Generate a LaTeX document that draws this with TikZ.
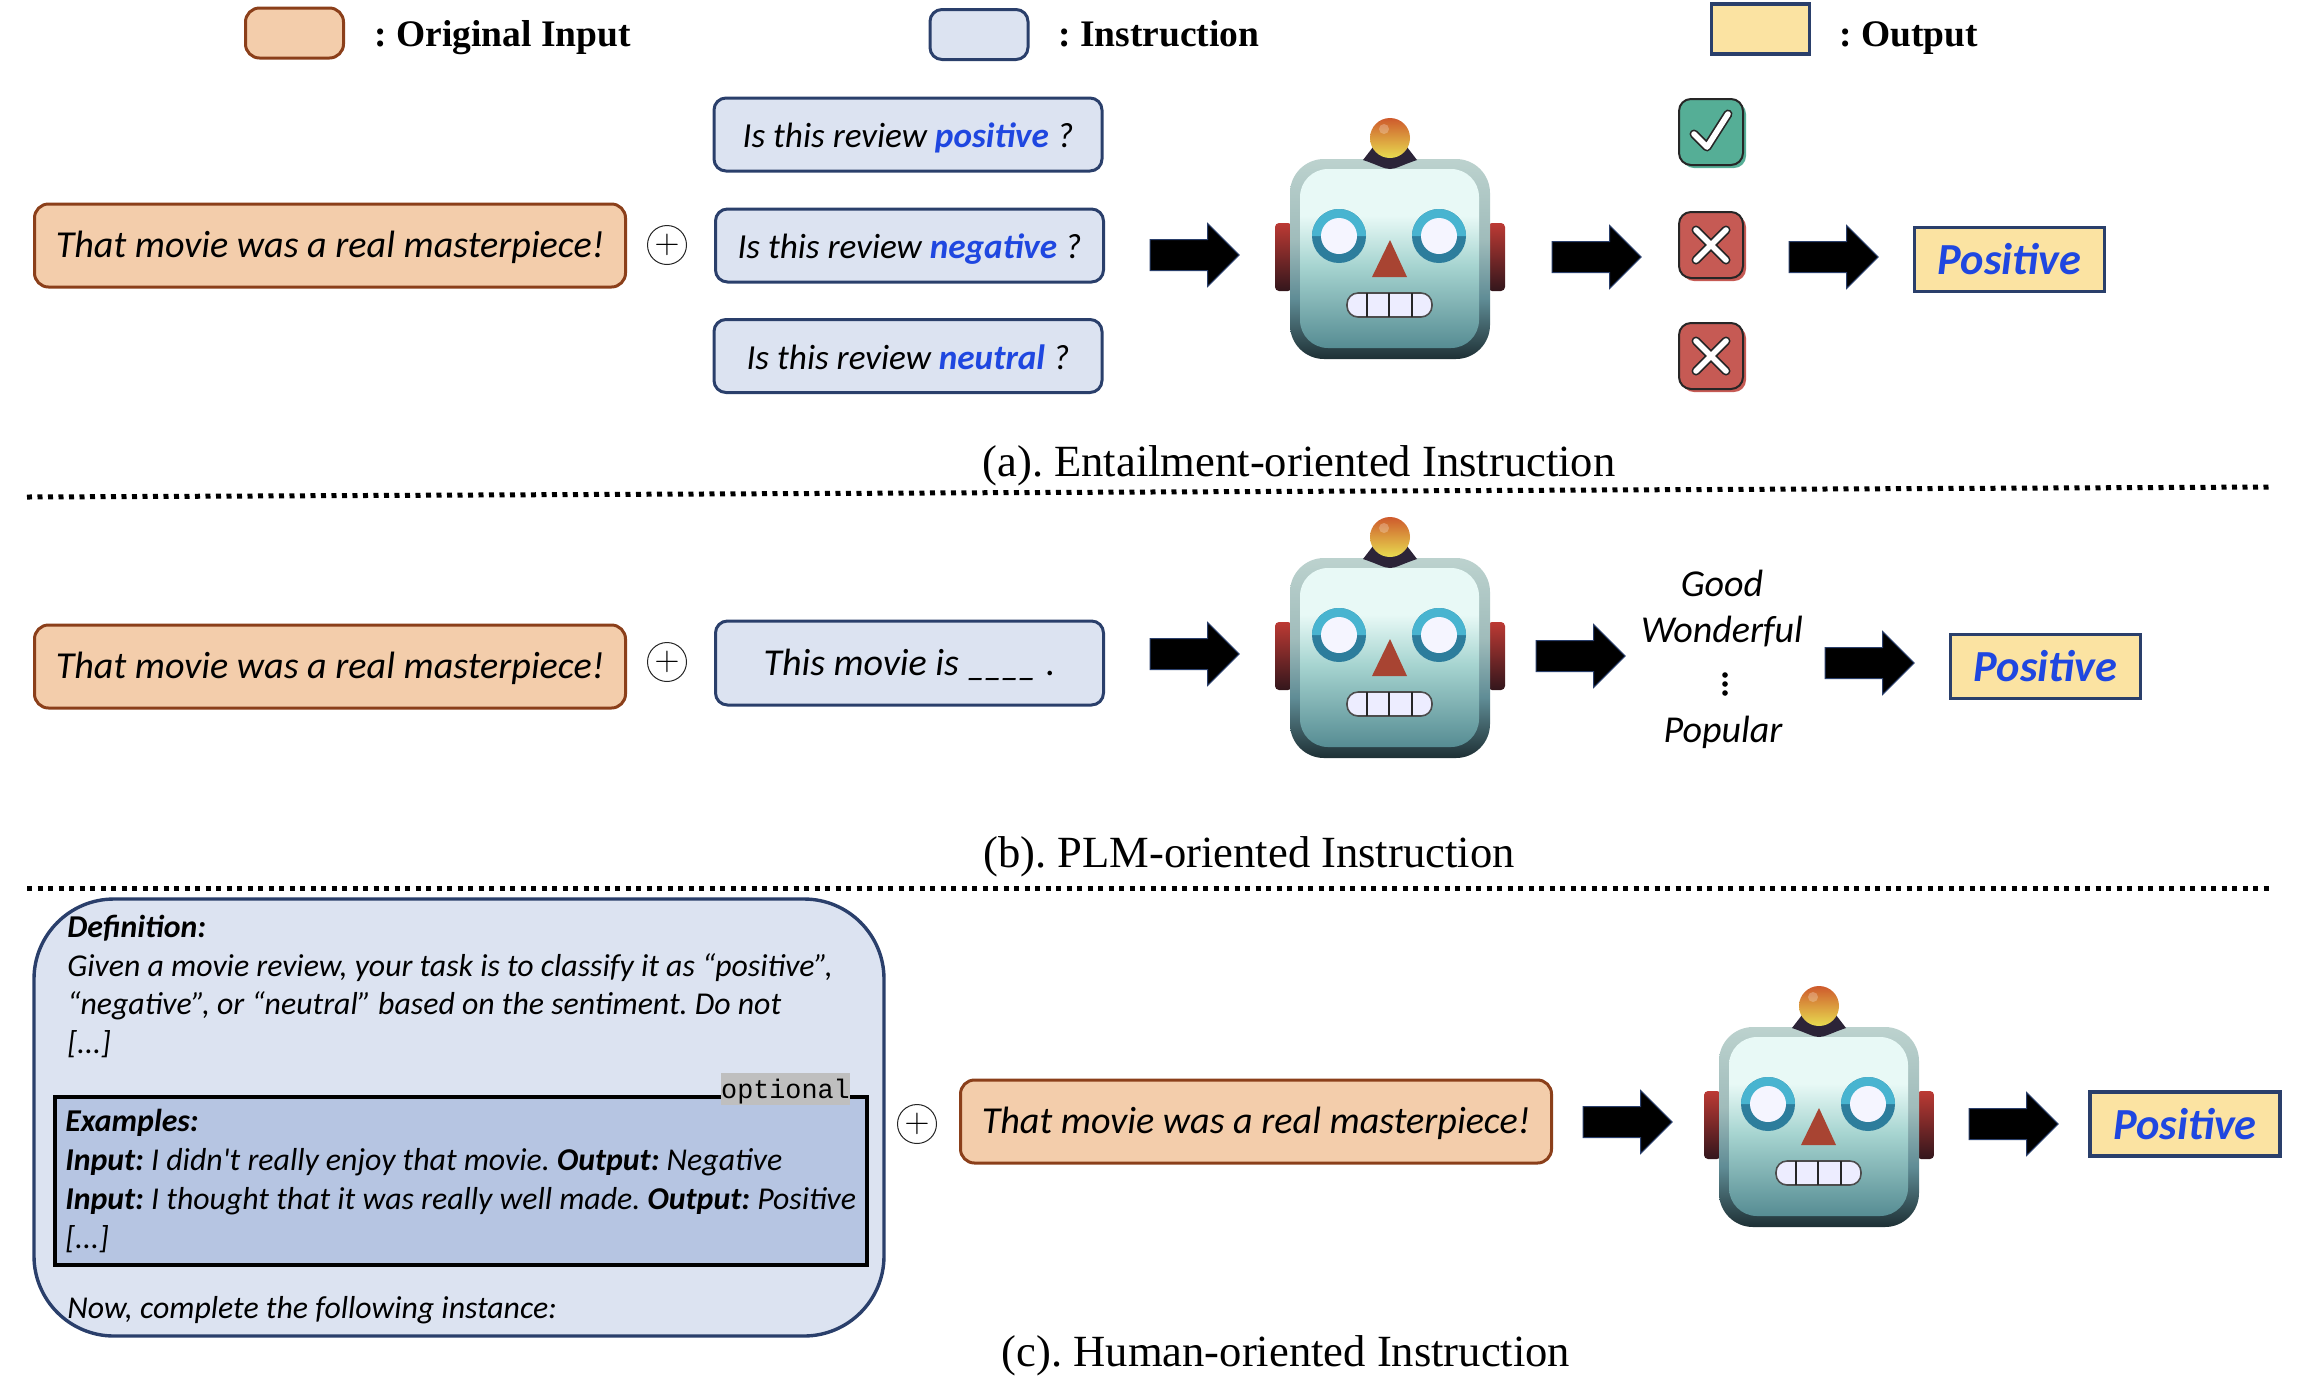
\documentclass[tikz,border=0pt]{standalone}
\usepackage{fontspec}
\setmainfont{Carlito}
\newfontfamily\rawfont{Carlito}
\newfontfamily\capfont{Liberation Serif}
\newfontfamily\tagfont{Liberation Mono}
\usetikzlibrary{shapes.arrows}
\AtBeginDocument{\frenchspacing}
\definecolor{InputFill}{HTML}{F3CDAB}
\definecolor{InputEdge}{HTML}{8B3F1A}
\definecolor{InstructionFill}{HTML}{DCE3F1}
\definecolor{InstructionEdge}{HTML}{2A3F6B}
\definecolor{ExamplesFill}{HTML}{B6C5E2}
\definecolor{OutputFill}{HTML}{FBE3A2}
\definecolor{LabelBlue}{HTML}{1F47E0}
\definecolor{CheckFill}{HTML}{55AE96}
\definecolor{CrossFill}{HTML}{C65A54}
\definecolor{RimA}{HTML}{BCD2CE}
\definecolor{RimB}{HTML}{A0BCBB}
\definecolor{RimC}{HTML}{5F8C95}
\definecolor{RimD}{HTML}{1E3035}
\definecolor{FaceA}{HTML}{E8F9F6}
\definecolor{FaceB}{HTML}{A6D4D0}
\definecolor{FaceC}{HTML}{568C93}
\definecolor{RedTop}{HTML}{BC3A34}
\definecolor{RedLow}{HTML}{33161C}
\definecolor{EyeTop}{HTML}{48B4D0}
\definecolor{EyeLow}{HTML}{2D7D9C}
\definecolor{NoseFill}{HTML}{A84432}
\definecolor{MountFill}{HTML}{2C2438}
\definecolor{BallTop}{HTML}{CE5A2C}
\definecolor{BallMid}{HTML}{EE8A30}
\definecolor{BallLow}{HTML}{E8DC50}
\pgfdeclareverticalshading{robotrim}{100bp}{color(0bp)=(RimD); color(25bp)=(RimD); color(40bp)=(RimC); color(55bp)=(RimB); color(75bp)=(RimA); color(100bp)=(RimA)}
\pgfdeclareverticalshading{robotface}{100bp}{color(0bp)=(FaceC); color(25bp)=(FaceC); color(48bp)=(FaceB); color(62bp)=(FaceA); color(75bp)=(FaceA); color(100bp)=(FaceA)}
\tikzset{
    inputbox/.style={draw=InputEdge, fill=InputFill, line width=1.5pt, rounded corners=7pt,
        minimum width=295.5pt, minimum height=41.5pt, inner sep=0pt, text height=14.8pt, text depth=3pt,
        font=\fontsize{19.05}{22}\selectfont\itshape},
    instructionbox/.style={draw=InstructionEdge, fill=InstructionFill, line width=1.5pt, rounded corners=6pt,
        minimum width=194pt, minimum height=36.5pt, inner sep=0pt, text height=16.3pt, text depth=3pt,
        font=\fontsize{17.6}{20}\selectfont\itshape},
    outputbox/.style={draw=InstructionEdge, fill=OutputFill, line width=1.7pt,
        minimum width=95pt, minimum height=32pt, inner sep=0pt,
        text=LabelBlue, font=\fontsize{22.2}{24}\selectfont\bfseries\itshape},
    blockarrow/.style={single arrow, draw=InstructionEdge, fill=black, line width=0.5pt, inner xsep=0pt, inner ysep=7.5pt,
        xshift=-3.6pt, minimum height=44.5pt, minimum width=31pt, single arrow head extend=8pt, single arrow head indent=0pt},
    plusmark/.style={circle, draw=black!85, line width=0.5pt, minimum size=19.5pt, inner sep=0pt, font=\fontsize{16}{16}\selectfont},
    legendtext/.style={anchor=west, inner sep=0pt, text height=12pt, text depth=0pt, font=\capfont\fontsize{18.75}{22}\selectfont\bfseries},
    captiontext/.style={inner sep=0pt, font=\capfont\fontsize{22.3}{26}\selectfont},
    wordtext/.style={inner sep=0pt, font=\fontsize{19}{22}\selectfont\itshape},
    bodytext/.style={anchor=west, inner sep=0pt, font=\fontsize{15.9}{18}\selectfont\itshape},
    rule line/.style={line width=2.5pt, dash pattern=on 2.5pt off 2.75pt},
    robot/.pic={
        \foreach \side in {-1,1} {
            \shade[top color=RedTop, bottom color=RedLow, rounded corners=2pt]
                (\side*115,-36) rectangle (\side*98,32);
        }
        \shade[shading=robotrim, rounded corners=17pt] (-100,-100) rectangle (100,100);
        \shade[shading=robotface, rounded corners=14pt] (-90,-90) rectangle (89,89);
        \foreach \eye in {-51,49} {
            \fill[EyeLow] (\eye,-23) circle (27);
            \fill[EyeTop] (\eye-27,-23) arc[start angle=180, end angle=360, radius=27] -- cycle;
            \fill[white!96!blue] (\eye,-23) circle (18);
        }
        \fill[NoseFill] (0,-19) -- (-18,18) -- (17,18) -- cycle;
        \draw[draw=black!70, fill=white!93!blue, line width=0.8pt, rounded corners=5.5pt] (-43,34) rectangle (42,58);
        \foreach \tooth in {-23,-1,22} {
            \draw[black!85, line width=1.1pt] (\tooth,34) -- (\tooth,58);
        }
        \fill[MountFill] (-27,-99) -- (-17,-112) -- (17,-112) -- (27,-99) .. controls (12,-94) and (6,-90) .. (0,-90) .. controls (-6,-90) and (-12,-94) .. (-27,-99);
        \shade[top color=BallTop, middle color=BallMid, bottom color=BallLow] (0,-121) circle (20);
        \fill[white, opacity=0.25] (-6,-130) circle (5);
    },
    checkmark/.pic={
        \fill[CheckFill, rounded corners=6pt] (-29,-30) rectangle (35,36);
        \draw[draw=black!85, fill=CheckFill, line width=1pt, rounded corners=6pt] (-32,-33) rectangle (32,33);
        \draw[black!85, line width=4.5pt, line cap=round, line join=round] (-17,2) -- (-4,15) -- (17,-18);
        \draw[white, line width=2.8pt, line cap=round, line join=round] (-17,2) -- (-4,15) -- (17,-18);
    },
    crossmark/.pic={
        \fill[CrossFill, rounded corners=6pt] (-29,-30) rectangle (35,36);
        \draw[draw=black!85, fill=CrossFill, line width=1pt, rounded corners=6pt] (-32,-33) rectangle (32,33);
        \foreach \col/\wid in {black!85/4.5pt, white/2.8pt} {
            \draw[\col, line width=\wid, line cap=round] (-15,-15) -- (15,15);
            \draw[\col, line width=\wid, line cap=round] (-15,15) -- (15,-15);
        }
    }
}
\begin{document}
\begin{tikzpicture}[x=0.5pt, y=-0.5pt]
    \useasboundingbox (0,0) rectangle (2298,1378);

    % legend
    \node[inputbox, minimum width=49pt, minimum height=25pt] (legendInput) at (294.5,33) {};
    \node[legendtext] (legendInputText) at (374,34) {: Original Input};
    \node[instructionbox, minimum width=49pt, minimum height=25pt] (legendInstruction) at (979,34.5) {};
    \node[legendtext] (legendInstructionText) at (1058,34) {: Instruction};
    \node[outputbox, minimum width=49pt, minimum height=25pt] (legendOutput) at (1760.5,29) {};
    \node[legendtext] (legendOutputText) at (1839,34) {: Output};

    % entailment row
    \node[inputbox] (inputA) at (330,245.5) {That movie was a real masterpiece!};
    \node[plusmark] (plusA) at (667,245) {$+$};
    \node[instructionbox] (askPositive) at (908,134.5) {Is this review \textcolor{LabelBlue}{\textbf{positive}} ?};
    \node[instructionbox] (askNegative) at (909.5,245.5) {Is this review \textcolor{LabelBlue}{\textbf{negative}} ?};
    \node[instructionbox] (askNeutral) at (908,356) {Is this review \textcolor{LabelBlue}{\textbf{neutral}} ?};
    \node[blockarrow] (arrowA) at (1194,255) {};
    \pic (robotA) at (1390,259) {robot};
    \node[blockarrow] (arrowB) at (1596,257) {};
    \pic (markPositive) at (1711,132) {checkmark};
    \pic (markNegative) at (1711,245) {crossmark};
    \pic (markNeutral) at (1711,356) {crossmark};
    \node[blockarrow] (arrowC) at (1833,257) {};
    \node[outputbox] (outputA) at (2009.5,259.5) {Positive};
    \node[captiontext] (captionA) at (1299,466) {(a). Entailment-oriented Instruction};

    \coordinate (ruleAleft) at (27,497);
    \coordinate (ruleAright) at (2272,487);
    \draw[rule line] (ruleAleft) -- (ruleAright);

    % plm row
    \node[inputbox] (inputB) at (330,666.5) {That movie was a real masterpiece!};
    \node[plusmark] (plusB) at (667,662) {$+$};
    \node[instructionbox, minimum height=42pt, text height=15.2pt, font=\fontsize{19}{22}\selectfont\itshape] (cloze) at (909.5,663) {This movie is \_\kern-1pt\_\kern-1pt\_\kern-1pt\_ .};
    \node[blockarrow] (arrowD) at (1194,654) {};
    \pic (robotB) at (1390,658) {robot};
    \node[blockarrow] (arrowE) at (1580,656) {};
    \node[wordtext] (wordGood) at (1722,583) {Good};
    \node[wordtext] (wordWonderful) at (1722,632) {Wonderful};
    \foreach \doty in {675,684,693} {
        \fill (1725,\doty) circle (2.8);
    }
    \node[wordtext] (wordPopular) at (1723,732) {Popular};
    \node[blockarrow] (arrowF) at (1869,663) {};
    \node[outputbox] (outputB) at (2045.5,666.5) {Positive};
    \node[captiontext] (captionB) at (1249,857) {(b). PLM-oriented Instruction};

    \coordinate (ruleBleft) at (27,888);
    \coordinate (ruleBright) at (2272,888);
    \draw[rule line] (ruleBleft) -- (ruleBright);

    % human row
    \draw[draw=InstructionEdge, fill=InstructionFill, line width=1.7pt, rounded corners=40pt] (34,899) rectangle (884,1336);
    \draw[draw=black, fill=ExamplesFill, line width=1.8pt] (55,1097) rectangle (867,1265);
    \node[fill=black!25, inner sep=0pt, minimum width=64.5pt, minimum height=16pt, text height=10pt, text depth=1pt, font=\tagfont\fontsize{13.4}{16}\selectfont] (optionalTag) at (785.5,1089) {optional};

    \node[bodytext] (defTitle) at (67,928) {\textbf{Definition:}};
    \node[bodytext] (defLineA) at (67,968) {Given a movie review, your task is to classify it as “positive”,};
    \node[bodytext] (defLineB) at (67,1006) {“negative”, or “neutral” based on the sentiment. Do not};
    \node[bodytext] (defLineC) at (67,1044) {[...]};
    \node[bodytext] (exTitle) at (65,1123) {\textbf{Examples:}};
    \node[bodytext] (exLineA) at (65,1162) {\textbf{Input:} I didn{\rawfont'}t really enjoy that movie. \textbf{Output:} Negative};
    \node[bodytext] (exLineB) at (65,1201) {\textbf{Input:} I thought that it was really well made. \textbf{Output:} Positive};
    \node[bodytext] (exLineC) at (65,1239) {[...]};
    \node[bodytext] (nowLine) at (67,1310) {Now, complete the following instance:};

    \node[plusmark] (plusC) at (917,1124) {$+$};
    \node[inputbox] (inputC) at (1256,1121.5) {That movie was a real masterpiece!};
    \node[blockarrow] (arrowG) at (1627,1122) {};
    \pic (robotC) at (1819,1127) {robot};
    \node[blockarrow] (arrowH) at (2013,1124) {};
    \node[outputbox] (outputC) at (2185,1124) {Positive};
    \node[captiontext] (captionC) at (1286,1356) {(c). Human-oriented Instruction};
\end{tikzpicture}
\end{document}
